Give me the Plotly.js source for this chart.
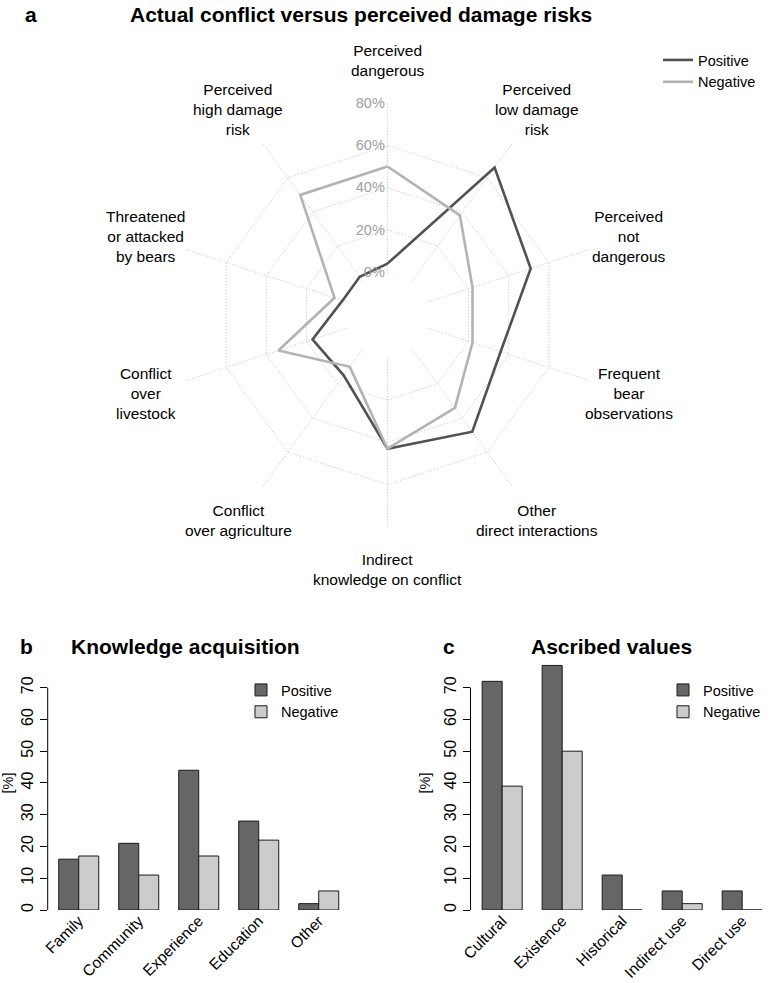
<!DOCTYPE html>
<html>
<head>
<meta charset="utf-8">
<script src="https://cdn.plot.ly/plotly-3.0.1.min.js"></script>
<style>
  html, body { margin: 0; padding: 0; background: #fff; }
  #chart { width: 771px; height: 983px; }
</style>
</head>
<body>
<div id="chart"></div>
<script>
// panel a: radar categories, counter-clockwise from top
const radar_categories = [
    "Perceived<br>dangerous",
    "Perceived<br>high damage<br>risk",
    "Threatened<br>or attacked<br>by bears",
    "Conflict<br>over<br>livestock",
    "Conflict<br>over agriculture",
    "Indirect<br>knowledge on conflict",
    "Other<br>direct interactions",
    "Frequent<br>bear<br>observations",
    "Perceived<br>not<br>dangerous",
    "Perceived<br>low damage<br>risk",
];
const radar_positive = [4, 2, 2, 17, 15, 43, 48, 36, 51, 66];
const radar_negative = [50, 50, 6, 34, 10, 43, 34, 22, 22, 38];
const radar_ticks = [0, 20, 40, 60, 80];
const radar_ticktext = ["0%", "20%", "40%", "60%", "80%"];

// panel b: knowledge acquisition
const knowledge_categories = ["Family", "Community", "Experience", "Education", "Other"];
const knowledge_positive = [16, 21, 44, 28, 2];
const knowledge_negative = [17, 11, 17, 22, 6];

// panel c: ascribed values
const values_categories = ["Cultural", "Existence", "Historical", "Indirect use", "Direct use"];
const values_positive = [72, 77, 11, 6, 6];
const values_negative = [39, 50, 0, 2, 0];

const bar_ticks = [0, 10, 20, 30, 40, 50, 60, 70];

const W = 771, H = 983;
const px = v => v / W;
const py = v => 1 - v / H;

const FONT = "Liberation Sans, Arial, Helvetica, sans-serif";
const DARK_LINE = "#525252";
const LIGHT_LINE = "#b3b3b3";
const DARK_BAR = "#666666";
const LIGHT_BAR = "#cccccc";
const GRID = "#c4c4c4";

const close_loop = arr => arr.concat([arr[0]]);

const radar_pos_trace = {
    type: "scatterpolar",
    name: "Positive",
    theta: close_loop(radar_categories),
    r: close_loop(radar_positive),
    mode: "lines",
    line: {color: DARK_LINE, width: 2.6},
    legend: "legend",
};
const radar_neg_trace = {
    type: "scatterpolar",
    name: "Negative",
    theta: close_loop(radar_categories),
    r: close_loop(radar_negative),
    mode: "lines",
    line: {color: LIGHT_LINE, width: 2.6},
    legend: "legend",
};

const bar_style = color => ({color: color, line: {color: "#1a1a1a", width: 1}});

const knowledge_pos = {
    type: "bar", name: "Positive", x: knowledge_categories, y: knowledge_positive,
    marker: bar_style(DARK_BAR), xaxis: "x", yaxis: "y", legend: "legend2",
};
const knowledge_neg = {
    type: "bar", name: "Negative", x: knowledge_categories, y: knowledge_negative,
    marker: bar_style(LIGHT_BAR), xaxis: "x", yaxis: "y", legend: "legend2",
};
const values_pos = {
    type: "bar", name: "Positive", x: values_categories, y: values_positive,
    marker: bar_style(DARK_BAR), xaxis: "x2", yaxis: "y2", legend: "legend3",
};
const values_neg = {
    type: "bar", name: "Negative", x: values_categories, y: values_negative,
    marker: bar_style(LIGHT_BAR), xaxis: "x2", yaxis: "y2", legend: "legend3",
};

const data = [radar_pos_trace, radar_neg_trace, knowledge_pos, knowledge_neg, values_pos, values_neg];

// radar geometry (pixels): centre and outer radius
const rc_x = 387.5, rc_y = 315, r_out = 211.75;

// bar panels: 60px per category, 0 at y=910, 10 units = 31.76px
const bar_bottom = 910, bar_top = 910 - 80 * 3.176;
const b_left = 47.7, b_right = 349.5;
const c_left = 470.5, c_right = 771;

const y_axis = {
    range: [0, 80],
    domain: [py(bar_bottom), py(bar_top)],
    tickvals: bar_ticks,
    tickangle: -90,
    ticks: "outside",
    ticklen: 7,
    tickcolor: "#000",
    showline: false,
    showgrid: false,
    zeroline: false,
    tickfont: {size: 16, color: "#000"},
    title: {text: "[%]", font: {size: 14.5, color: "#000"}, standoff: 8},
};
const x_axis = {
    type: "category",
    tickangle: -45,
    ticks: "",
    ticklabelstandoff: -2,
    showline: false,
    showgrid: false,
    zeroline: false,
    tickfont: {size: 15.5, color: "#000"},
};

const title_font = {family: FONT, size: 21, color: "#000", weight: "bold"};
const ann = (text, x, y) => ({
    text: text, x: px(x), y: py(y), xref: "paper", yref: "paper",
    xanchor: "center", yanchor: "middle", showarrow: false, font: title_font,
});

// radar labels centred at 1.2 x outer radius along each spoke
const radar_labels = radar_categories.map((label, i) => {
    const a = (90 + 36 * i) * Math.PI / 180;
    return {
        text: label,
        x: px(rc_x + 1.2 * r_out * Math.cos(a)),
        y: py(rc_y - 1.2 * r_out * Math.sin(a)),
        xref: "paper", yref: "paper",
        xanchor: "center", yanchor: "middle", align: "center",
        showarrow: false,
        font: {family: FONT, size: 15.5, color: "#000"},
    };
});

const layout = {
    width: W,
    height: H,
    margin: {l: 0, r: 0, t: 0, b: 0},
    paper_bgcolor: "#fff",
    plot_bgcolor: "#fff",
    font: {family: FONT, size: 14.5, color: "#000"},
    barmode: "group",
    bargap: 1 / 3,
    bargroupgap: 0,
    polar: {
        domain: {
            x: [px(rc_x - r_out), px(rc_x + r_out)],
            y: [py(rc_y + r_out), py(rc_y - r_out)],
        },
        hole: 0.2,
        gridshape: "linear",
        bgcolor: "#fff",
        angularaxis: {
            type: "category",
            rotation: 90,
            direction: "counterclockwise",
            showline: false,
            showgrid: true,
            gridcolor: GRID,
            griddash: "1px,2px",
            ticks: "",
            showticklabels: false,
        },
        radialaxis: {
            range: [-0.3, 80],
            angle: 90,
            tickangle: 90,
            side: "counterclockwise",
            tickvals: radar_ticks,
            ticktext: radar_ticktext,
            showline: false,
            ticks: "",
            showgrid: true,
            gridcolor: GRID,
            griddash: "1px,2px",
            tickfont: {size: 14.5, color: "#a0a0a0"},
        },
    },
    xaxis: Object.assign({}, x_axis, {
        anchor: "y",
        domain: [px(b_left), px(b_right)],
        range: [-0.517, 4.513],
    }),
    yaxis: Object.assign({}, y_axis, {anchor: "x"}),
    xaxis2: Object.assign({}, x_axis, {
        anchor: "y2",
        domain: [px(c_left), px(c_right)],
        range: [-0.528, 4.48],
    }),
    yaxis2: Object.assign({}, y_axis, {anchor: "x2"}),
    legend: {
        x: px(658), y: py(44), xanchor: "left", yanchor: "top",
        bgcolor: "rgba(0,0,0,0)", font: {size: 14.5}, tracegroupgap: 0,
    },
    legend2: {
        x: px(241), y: py(674), xanchor: "left", yanchor: "top",
        bgcolor: "rgba(0,0,0,0)", font: {size: 14.5},
    },
    legend3: {
        x: px(663), y: py(674), xanchor: "left", yanchor: "top",
        bgcolor: "rgba(0,0,0,0)", font: {size: 14.5},
    },
    shapes: [
        {type: "line", xref: "paper", yref: "y", x0: px(b_left), x1: px(b_left), y0: 0, y1: 70,
         line: {color: "#000", width: 1}},
        {type: "line", xref: "paper", yref: "y2", x0: px(c_left), x1: px(c_left), y0: 0, y1: 70,
         line: {color: "#000", width: 1}},
    ],
    annotations: [
        ann("a", 30.5, 15),
        ann("Actual conflict versus perceived damage risks", 361.3, 15),
        ann("b", 26, 646.7),
        ann("Knowledge acquisition", 185.5, 646.7),
        ann("c", 449, 646.7),
        ann("Ascribed values", 611.7, 646.7),
    ].concat(radar_labels),
};

Plotly.newPlot("chart", data, layout, {displayModeBar: false, staticPlot: true});
</script>
</body>
</html>
